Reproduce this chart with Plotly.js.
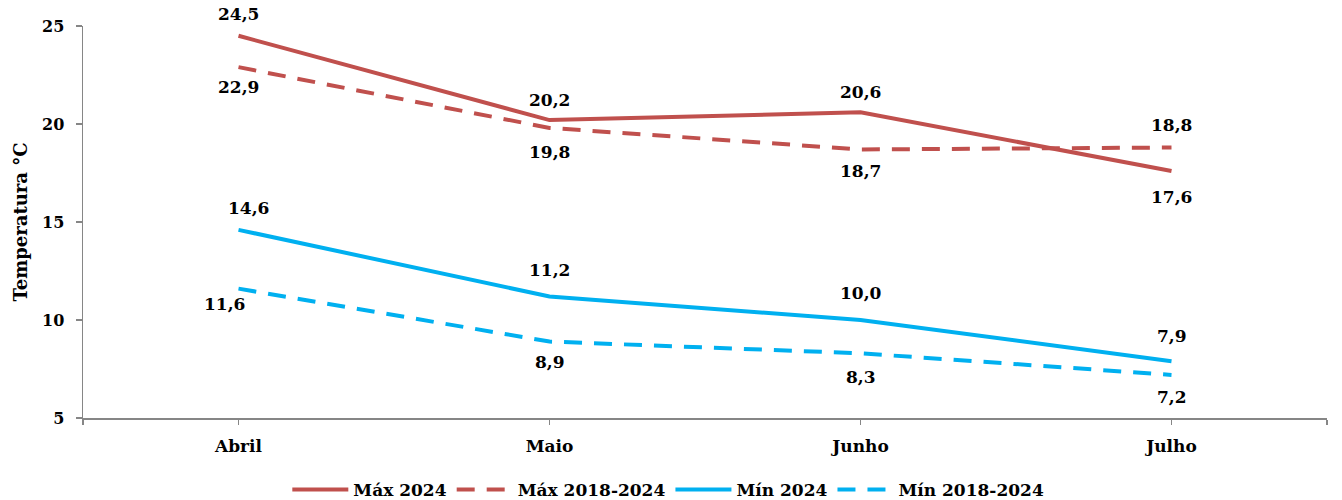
<!DOCTYPE html>
<html>
<head>
<meta charset="utf-8">
<script src="https://cdn.plot.ly/plotly-3.0.1.min.js"></script>
<style>
  html, body { margin: 0; padding: 0; background: #fff; }
  #chart { width: 1342px; height: 500px; }
</style>
</head>
<body>
<div id="chart"></div>
<script>
// Monthly temperatures (°C), April–July
const months = ["Abril", "Maio", "Junho", "Julho"];
const max2024 = [24.5, 20.2, 20.6, 17.6];
const maxAvg = [22.9, 19.8, 18.7, 18.8];
const min2024 = [14.6, 11.2, 10.0, 7.9];
const minAvg = [11.6, 8.9, 8.3, 7.2];
const yTicks = [5, 10, 15, 20, 25];

// label placement (pixel offsets from each point)
const placeMax2024 = [[0, -22], [0, -20], [0, -20], [0, 26]];
const placeMaxAvg = [[0, 20], [0, 24], [0, 22], [0, -23]];
const placeMin2024 = [[10, -22], [0, -26], [0, -27], [0, -25]];
const placeMinAvg = [[-14, 15], [0, 20], [0, 24], [0, 22]];

const RED = "#C0504D";
const BLUE = "#00B0F0";
const FONT = "DejaVu Serif";
const xIdx = months.map((_, i) => i);
const fmt = v => v.toFixed(1).replace(".", ",");

function series(name, vals, color, dash) {
  return {
    type: "scatter", mode: "lines", name: name,
    x: xIdx, y: vals,
    line: { color: color, width: 4, dash: dash },
    hoverinfo: "skip"
  };
}

const traces = [
  series("Máx 2024", max2024, RED, "solid"),
  series("Máx 2018-2024", maxAvg, RED, "18px,12px"),
  series("Mín 2024", min2024, BLUE, "solid"),
  series("Mín 2018-2024", minAvg, BLUE, "18px,12px")
];

const annotations = [];
[[max2024, placeMax2024], [maxAvg, placeMaxAvg], [min2024, placeMin2024], [minAvg, placeMinAvg]]
  .forEach(([vals, place]) => {
    vals.forEach((v, i) => {
      annotations.push({
        x: xIdx[i], y: v, xref: "x", yref: "y",
        text: fmt(v), showarrow: false,
        xshift: place[i][0], yshift: -place[i][1],
        font: { family: FONT, size: 17, color: "#000", weight: "bold" }
      });
    });
  });

const xRange = [-0.5, months.length - 0.5];
const yRange = [yTicks[0], yTicks[yTicks.length - 1]];
const xTickVals = [xRange[0]].concat(xIdx, [xRange[1]]);
const xTickText = [""].concat(months, [""]);

const layout = {
  width: 1342, height: 500,
  margin: { l: 83, r: 15, t: 26, b: 82 },
  paper_bgcolor: "#fff", plot_bgcolor: "#fff",
  font: { family: FONT, size: 17, color: "#000", weight: "bold" },
  showlegend: true,
  legend: {
    orientation: "h", xref: "container", x: 0.498, xanchor: "center",
    yref: "container", y: 0.02, yanchor: "middle",
    font: { family: FONT, size: 17, color: "#000", weight: "bold" },
    itemwidth: 56, tracegroupgap: 0
  },
  xaxis: {
    range: xRange, tickmode: "array", tickvals: xTickVals, ticktext: xTickText,
    showgrid: false, zeroline: false, showline: true, linecolor: "#868686", linewidth: 1.5,
    ticks: "outside", ticklen: 5, tickcolor: "#868686", tickwidth: 1.5,
    ticklabelstandoff: 7,
    tickfont: { family: FONT, size: 17, color: "#000", weight: "bold" }
  },
  xaxis2: {
    overlaying: "x", matches: "x", range: xRange, tickmode: "array", tickvals: xTickVals,
    showticklabels: false, showgrid: false, zeroline: false, showline: false,
    ticks: "inside", ticklen: 5, tickcolor: "#868686", tickwidth: 1.5
  },
  yaxis: {
    range: yRange, tickmode: "array", tickvals: yTicks,
    showgrid: false, zeroline: false, showline: true, linecolor: "#868686", linewidth: 1.5,
    ticks: "outside", ticklen: 6, tickcolor: "#868686", tickwidth: 1.5,
    ticklabelstandoff: 8,
    tickfont: { family: FONT, size: 16, color: "#000", weight: "bold" },
    title: { text: "Temperatura °C", standoff: 9,
             font: { family: FONT, size: 18, color: "#000", weight: "bold" } }
  },
  yaxis2: {
    overlaying: "y", matches: "y", range: yRange, tickmode: "array", tickvals: yTicks,
    showticklabels: false, showgrid: false, zeroline: false, showline: false,
    ticks: "inside", ticklen: 7, tickcolor: "#868686", tickwidth: 1.5
  },
  annotations: annotations
};

Plotly.newPlot("chart", traces, layout, { displayModeBar: false, staticPlot: true });
</script>
</body>
</html>
